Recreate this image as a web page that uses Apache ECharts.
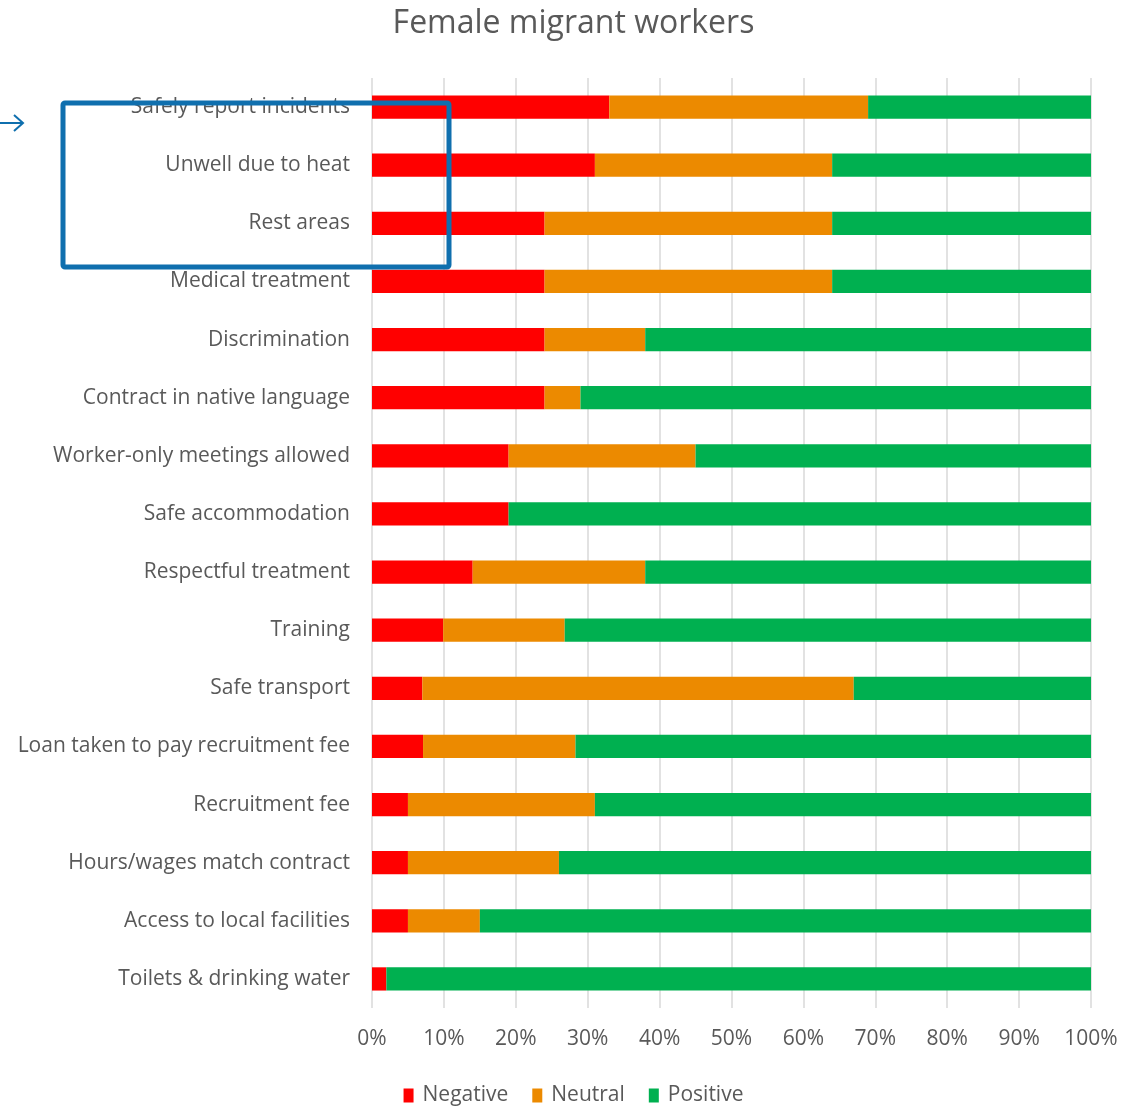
<!DOCTYPE html>
<html>
<head>
<meta charset="utf-8">
<script src="https://cdn.jsdelivr.net/npm/echarts@6/dist/echarts.min.js"></script>
<style>
  html, body { margin: 0; padding: 0; background: #fff; }
  #chart { width: 1147px; height: 1106px; }
</style>
</head>
<body>
<div id="chart"></div>
<script>
// Survey topics, listed top to bottom
const categories = [
  'Safely report incidents',
  'Unwell due to heat',
  'Rest areas',
  'Medical treatment',
  'Discrimination',
  'Contract in native language',
  'Worker-only meetings allowed',
  'Safe accommodation',
  'Respectful treatment',
  'Training',
  'Safe transport',
  'Loan taken to pay recruitment fee',
  'Recruitment fee',
  'Hours/wages match contract',
  'Access to local facilities',
  'Toilets & drinking water'
];

// Share of responses (%) per topic
const negative = [33, 31, 24, 24, 24, 24, 19, 19, 14, 9.9, 7, 7.1, 5, 5, 5, 2];
const neutral  = [36, 33, 40, 40, 14, 5, 26, 0, 24, 16.9, 60, 21.2, 26, 21, 10, 0];
const positive = [31, 36, 36, 36, 62, 71, 55, 81, 62, 73.2, 33, 71.7, 69, 74, 85, 98];

const xTicks = [0, 10, 20, 30, 40, 50, 60, 70, 80, 90, 100];

const FONT = '"Open Sans", "Noto Sans", sans-serif';
const GREY = '#595959';
const BLUE = '#0F6FAE';

const chart = echarts.init(document.getElementById('chart'), null, { renderer: 'canvas' });

const seriesDef = [
  { name: 'Negative', data: negative, color: '#FF0000' },
  { name: 'Neutral',  data: neutral,  color: '#EC8A00' },
  { name: 'Positive', data: positive, color: '#00B050' }
];

chart.setOption({
  animation: false,
  backgroundColor: '#fff',
  title: {
    text: 'Female migrant workers',
    left: 'center',
    top: 3,
    textStyle: { fontFamily: FONT, fontSize: 32, fontWeight: 'normal', color: GREY }
  },
  legend: {
    top: 1080,
    left: 'center',
    itemWidth: 10,
    itemHeight: 14,
    itemGap: 24,
    icon: 'rect',
    textStyle: { fontFamily: FONT, fontSize: 21, color: GREY, padding: [0, 0, 0, 4] },
    data: seriesDef.map(s => s.name)
  },
  grid: { left: 372, right: 56, top: 78, bottom: 98, containLabel: false },
  xAxis: {
    type: 'value',
    min: xTicks[0],
    max: xTicks[xTicks.length - 1],
    interval: 10,
    axisLine: { show: false },
    axisTick: { show: false },
    splitLine: { show: true, lineStyle: { color: '#D9D9D9', width: 1.5 } },
    axisLabel: {
      formatter: v => v + '%',
      fontFamily: FONT, fontSize: 21, color: GREY, margin: 21
    }
  },
  yAxis: {
    type: 'category',
    inverse: true,
    data: categories,
    axisLine: { show: false },
    axisTick: { show: false },
    axisLabel: { fontFamily: FONT, fontSize: 21, color: GREY, margin: 22 }
  },
  series: seriesDef.map(s => ({
    name: s.name,
    type: 'bar',
    stack: 'total',
    barWidth: '40%',
    itemStyle: { color: s.color },
    data: s.data
  })),
  graphic: [
    {
      type: 'rect',
      shape: { x: 63, y: 103, width: 386, height: 164, r: 2 },
      style: { fill: 'none', stroke: BLUE, lineWidth: 5 },
      z: 100
    },
    {
      type: 'polyline',
      shape: { points: [[0, 123], [23, 123]] },
      style: { stroke: BLUE, lineWidth: 2, fill: 'none' },
      z: 100
    },
    {
      type: 'polyline',
      shape: { points: [[14, 115], [23, 123], [14, 131]] },
      style: { stroke: BLUE, lineWidth: 2, fill: 'none' },
      z: 100
    }
  ]
});
</script>
</body>
</html>
